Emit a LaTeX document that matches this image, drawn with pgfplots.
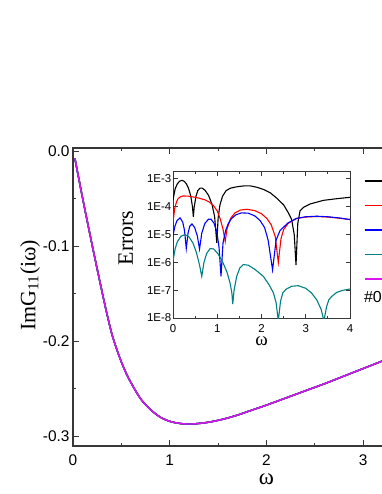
\documentclass[border=0pt]{standalone}
\usepackage{fontspec}
\setmainfont{Liberation Serif}
\newfontfamily\sans{Liberation Sans}
\usepackage{pgfplots}
\pgfplotsset{compat=1.18}
\usepackage{pgfplotstable}

\definecolor{cteal}{RGB}{0,128,128}
\definecolor{cmag}{RGB}{220,20,240}
\definecolor{axgray}{RGB}{55,55,55}

\pgfplotstableread{
w v
0.02 -0.008
0.1 -0.050
0.2 -0.100
0.3 -0.148
0.35 -0.171
0.4 -0.192
0.45 -0.208
0.5 -0.222
0.55 -0.234
0.6 -0.244
0.7 -0.261
0.8 -0.272
0.9 -0.280
1.0 -0.2845
1.1 -0.2867
1.2 -0.2874
1.3 -0.2868
1.4 -0.2855
1.5 -0.2835
1.6 -0.281
1.7 -0.278
1.8 -0.2745
1.9 -0.271
2.0 -0.2675
2.2 -0.260
2.4 -0.2525
2.6 -0.245
2.8 -0.237
3.0 -0.229
3.2 -0.221
3.4 -0.213
3.6 -0.205
3.8 -0.198
4.0 -0.191
}\maindata

\pgfplotstableread{
w e
0.00 1.78e-4
0.05 4.47e-4
0.10 6.76e-4
0.15 8.32e-4
0.20 8.91e-4
0.25 8.32e-4
0.30 6.76e-4
0.35 4.68e-4
0.40 2.51e-4
0.44 1.00e-4
0.46 4.37e-5
0.48 1.00e-4
0.52 2.40e-4
0.56 3.80e-4
0.61 4.68e-4
0.66 4.68e-4
0.72 3.98e-4
0.80 2.63e-4
0.88 1.26e-4
0.94 4.47e-5
0.99 5.01e-6
1.02 3.98e-5
1.06 1.15e-4
1.12 2.40e-4
1.20 3.80e-4
1.30 4.68e-4
1.45 5.25e-4
1.60 5.62e-4
1.75 5.62e-4
1.90 5.01e-4
2.05 4.17e-4
2.20 3.16e-4
2.35 2.00e-4
2.50 1.17e-4
2.60 6.31e-5
2.68 3.55e-5
2.74 1.00e-5
2.78 7.94e-7
2.82 2.51e-5
2.87 7.08e-5
2.95 9.55e-5
3.10 1.26e-4
3.40 1.70e-4
3.70 1.95e-4
4.00 2.19e-4
}\blackdata

\pgfplotstableread{
w e
0.00 2.82e-5
0.04 8.91e-5
0.08 1.51e-4
0.12 2.00e-4
0.17 2.29e-4
0.23 2.45e-4
0.35 2.40e-4
0.50 2.19e-4
0.61 2.00e-4
0.72 1.78e-4
0.82 1.48e-4
0.92 1.07e-4
1.00 7.08e-5
1.07 3.55e-5
1.13 1.58e-5
1.18 5.62e-6
1.22 1.58e-5
1.30 3.80e-5
1.40 6.03e-5
1.52 7.59e-5
1.67 8.13e-5
1.85 7.24e-5
2.00 5.62e-5
2.12 3.80e-5
2.22 2.24e-5
2.31 8.51e-6
2.38 9.77e-7
2.44 7.08e-6
2.50 1.51e-5
2.60 2.51e-5
2.79 3.80e-5
3.00 4.27e-5
3.25 4.47e-5
3.50 4.27e-5
3.75 3.89e-5
4.00 3.47e-5
}\reddata

\pgfplotstableread{
w e
0.00 8.91e-6
0.04 1.91e-5
0.09 3.16e-5
0.16 3.98e-5
0.22 2.82e-5
0.26 1.41e-5
0.30 3.16e-6
0.34 1.12e-5
0.38 2.00e-5
0.43 2.40e-5
0.49 1.78e-5
0.55 8.91e-6
0.60 3.02e-6
0.65 1.12e-5
0.72 2.51e-5
0.80 3.55e-5
0.86 3.55e-5
0.93 2.51e-5
0.99 1.26e-5
1.04 3.55e-6
1.085 3.16e-7
1.13 5.01e-6
1.19 1.41e-5
1.25 2.51e-5
1.32 3.72e-5
1.42 5.13e-5
1.55 6.03e-5
1.70 5.89e-5
1.85 4.68e-5
1.97 3.16e-5
2.07 1.78e-5
2.15 6.31e-6
2.25 5.37e-7
2.33 6.31e-6
2.42 1.41e-5
2.60 2.63e-5
2.79 3.80e-5
3.00 4.37e-5
3.25 4.57e-5
3.50 4.37e-5
3.75 3.98e-5
4.00 3.47e-5
}\bluedata

\pgfplotstableread{
w e
0.00 1.12e-6
0.05 3.16e-6
0.10 5.62e-6
0.18 8.71e-6
0.27 1.00e-5
0.36 8.32e-6
0.45 5.01e-6
0.53 2.24e-6
0.60 7.94e-7
0.65 3.16e-7
0.70 1.00e-6
0.76 2.09e-6
0.84 3.16e-6
0.92 3.02e-6
1.02 2.00e-6
1.12 1.05e-6
1.22 4.47e-7
1.29 1.78e-7
1.33 7.94e-8
1.35 3.16e-8
1.38 1.00e-7
1.44 3.16e-7
1.51 6.31e-7
1.59 8.32e-7
1.70 7.94e-7
1.85 5.62e-7
2.04 3.16e-7
2.17 1.58e-7
2.27 7.94e-8
2.33 3.55e-8
2.38 7.94e-9
2.43 3.98e-8
2.48 7.94e-8
2.55 1.07e-7
2.68 1.38e-7
2.83 1.45e-7
3.00 1.17e-7
3.13 7.94e-8
3.25 4.47e-8
3.35 2.00e-8
3.41 7.94e-9
3.47 2.51e-8
3.52 4.47e-8
3.59 6.03e-8
3.70 8.32e-8
3.85 1.00e-7
4.00 1.10e-7
}\tealdata

\begin{document}
\begin{tikzpicture}
\path[use as bounding box] (-73bp,-48bp) rectangle (309bp,446bp);
\begin{axis}[
  name=main, at={(0,0)}, anchor=south west,
  scale only axis, width=386.8bp, height=298bp,
  xmin=0, xmax=4, ymin=-0.3105, ymax=0.00316,
  xtick={0,1,2,3,4}, xticklabels={0,1,2,3,4},
  minor xtick={0.5,1.5,2.5,3.5},
  ytick={-0.3,-0.2,-0.1,0}, yticklabels={-0.3,-0.2,-0.1,0.0},
  minor ytick={-0.25,-0.15,-0.05},
  tick align=inside,
  major tick length=6bp, minor tick length=3.5bp,
  axis line style={axgray, line width=1.1bp},
  every tick/.style={axgray, line width=1bp},
  ticklabel style={font=\sans\fontsize{15.5}{18}\selectfont},
  xticklabel style={yshift=-5bp},
  xlabel={ω},
  xlabel style={font=\fontsize{23}{26}\selectfont, inner sep=0pt, at={(axis description cs:0.5,-0.113)}, anchor=center},
  ylabel={ImG\textsubscript{11}(iω)},
  ylabel style={font=\fontsize{22}{26}\selectfont, at={(axis description cs:-0.111,0.54)}, anchor=center},
  legend style={draw=none, fill=none, at={(axis description cs:0.752,0.917)}, anchor=north west,
    font=\sans\fontsize{15}{18}\selectfont, row sep=8.5bp, inner sep=0pt,
    nodes={inner sep=1pt, text height=11bp, text depth=3bp}},
  legend cell align=left,
  legend image code/.code={\draw[#1, line width=1.3bp] (0bp,0bp) -- (30bp,0bp);},
]
\addplot[black, line width=1.4bp, smooth] table[x=w, y=v] {\maindata};
\addlegendentry{\#1}
\addplot[red, line width=1.4bp, smooth] table[x=w, y=v] {\maindata};
\addlegendentry{\#2}
\addplot[blue, line width=1.4bp, smooth] table[x=w, y=v] {\maindata};
\addlegendentry{\#3}
\addplot[cteal, line width=1.4bp, smooth] table[x=w, y=v] {\maindata};
\addlegendentry{\#4}
\addplot[cmag, line width=1.4bp, smooth] table[x=w, y=v] {\maindata};
\addlegendentry{\#5}
\node[anchor=west, font=\sans\fontsize{16}{18}\selectfont, inner sep=0pt] at (axis description cs:0.752,0.5) {\#0};
\end{axis}
\begin{axis}[
  at={(100bp,128bp)}, anchor=south west,
  scale only axis, width=177bp, height=146bp,
  xmin=0, xmax=4, ymode=log, ymin=1e-8, ymax=1.778e-3,
  xtick={0,1,2,3,4}, xticklabels={0,1,2,3,4},
  minor xtick={0.5,1.5,2.5,3.5},
  ytick={1e-8,1e-7,1e-6,1e-5,1e-4,1e-3},
  yticklabels={1E-8,1E-7,1E-6,1E-5,1E-4,1E-3},
  yminorticks=false,
  tick align=inside,
  major tick length=4.5bp, minor tick length=2.5bp,
  axis line style={axgray, line width=1bp},
  every tick/.style={axgray, line width=0.9bp},
  ticklabel style={font=\sans\fontsize{11.5}{13}\selectfont},
  yticklabel style={inner sep=1.5bp},
  xticklabel style={yshift=-3bp},
  xlabel={ω},
  xlabel style={font=\fontsize{19}{22}\selectfont, inner sep=0pt, at={(axis description cs:0.5,-0.16)}, anchor=center},
  ylabel={Errors},
  ylabel style={font=\fontsize{22}{26}\selectfont, at={(axis description cs:-0.266,0.548)}, anchor=center},
]
\addplot[black, line width=1.1bp] table[x=w, y=e] {\blackdata};
\addplot[red, line width=1.1bp] table[x=w, y=e] {\reddata};
\addplot[blue, line width=1.1bp] table[x=w, y=e] {\bluedata};
\addplot[cteal, line width=1.1bp] table[x=w, y=e] {\tealdata};
\end{axis}
\end{tikzpicture}
\end{document}
